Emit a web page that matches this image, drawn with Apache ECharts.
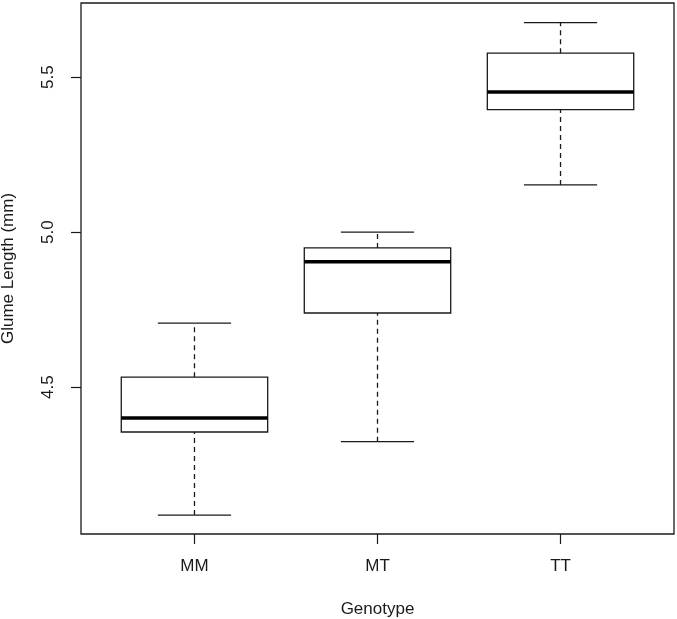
<!DOCTYPE html>
<html>
<head>
<meta charset="utf-8">
<script src="https://cdn.jsdelivr.net/npm/echarts@6/dist/echarts.min.js"></script>
<style>html,body{margin:0;padding:0;background:#fff}#c{width:677px;height:619px}</style>
</head>
<body>
<div id="c"></div>
<script>
const categories = ['MM', 'MT', 'TT'];
// [lower whisker, Q1, median, Q3, upper whisker]
const mmStats = [4.087, 4.355, 4.400, 4.532, 4.706];
const mtStats = [4.324, 4.739, 4.904, 4.949, 5.000];
const ttStats = [5.152, 5.395, 5.452, 5.577, 5.676];
const yTicks = [4.5, 5.0, 5.5];
const xTitle = 'Genotype';
const yTitle = 'Glume Length (mm)';

const stats = [mmStats, mtStats, ttStats];
const data = stats.map((s, i) => [i + 1].concat(s));
const FONT = '"Liberation Sans", Arial, Helvetica, sans-serif';
const INK = '#1a1a1a';

const chart = echarts.init(document.getElementById('c'));
chart.setOption({
  animation: false,
  backgroundColor: '#fff',
  grid: { left: 81, right: 3, top: 3, bottom: 85, containLabel: false, outerBoundsMode: 'none',
    show: true, borderColor: INK, borderWidth: 1.3, backgroundColor: 'transparent' },
  xAxis: {
    type: 'value', min: 0.38, max: 3.62,
    name: xTitle, nameLocation: 'middle', nameGap: 67,
    nameTextStyle: { fontFamily: FONT, fontSize: 17, color: INK },
    axisLine: { show: false },
    splitLine: { show: false },
    axisTick: { show: true, customValues: [1, 2, 3], length: 10, lineStyle: { color: INK, width: 1.2 } },
    axisLabel: { customValues: [1, 2, 3], margin: 24, fontFamily: FONT, fontSize: 17, color: INK,
      formatter: v => categories[Math.round(v) - 1] || '' }
  },
  yAxis: {
    type: 'value', min: 4.026, max: 5.739,
    name: yTitle, nameLocation: 'middle', nameGap: 64,
    nameTextStyle: { fontFamily: FONT, fontSize: 17, color: INK },
    axisLine: { show: false },
    splitLine: { show: false },
    axisTick: { show: true, customValues: yTicks, length: 10, lineStyle: { color: INK, width: 1.2 } },
    axisLabel: { customValues: yTicks, rotate: 90, margin: 24, fontFamily: FONT, fontSize: 17, color: INK,
      formatter: v => v.toFixed(1) }
  },
  series: [{
    type: 'custom',
    data: data,
    encode: { x: 0, y: [1, 2, 3, 4, 5] },
    renderItem: function (params, api) {
      const x = api.value(0);
      const unit = api.size([1, 0])[0];
      const bw = unit * 0.8, cw = unit * 0.4;
      const p = [1, 2, 3, 4, 5].map(k => api.coord([x, api.value(k)]));
      const cx = p[0][0];
      const ys = p.map(q => q[1]);
      const lineStyle = { stroke: INK, lineWidth: 1.3, fill: null };
      return {
        type: 'group',
        children: [
          { type: 'line', shape: { x1: cx, y1: ys[0], x2: cx, y2: ys[1] }, style: Object.assign({}, lineStyle, { lineDash: [5, 4] }) },
          { type: 'line', shape: { x1: cx, y1: ys[3], x2: cx, y2: ys[4] }, style: Object.assign({}, lineStyle, { lineDash: [5, 4] }) },
          { type: 'line', shape: { x1: cx - cw / 2, y1: ys[0], x2: cx + cw / 2, y2: ys[0] }, style: lineStyle },
          { type: 'line', shape: { x1: cx - cw / 2, y1: ys[4], x2: cx + cw / 2, y2: ys[4] }, style: lineStyle },
          { type: 'rect', shape: { x: cx - bw / 2, y: ys[3], width: bw, height: ys[1] - ys[3] }, style: { stroke: INK, lineWidth: 1.3, fill: '#fff' } },
          { type: 'line', shape: { x1: cx - bw / 2, y1: ys[2], x2: cx + bw / 2, y2: ys[2] }, style: { stroke: '#000', lineWidth: 3.5 } }
        ]
      };
    }
  }]
});
</script>
</body>
</html>
